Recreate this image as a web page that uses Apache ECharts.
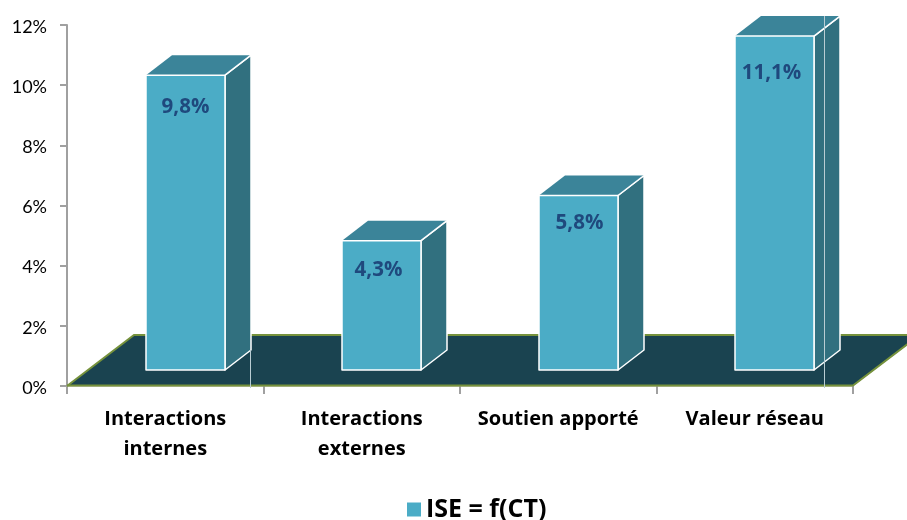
<!DOCTYPE html>
<html>
<head>
<meta charset="utf-8">
<style>html,body{margin:0;padding:0;background:#fff}#c{width:907px;height:520px}</style>
<script src="https://cdn.jsdelivr.net/npm/echarts@6/dist/echarts.min.js"></script>
</head>
<body>
<div id="c"></div>
<script>
var categories = ['Interactions\ninternes', 'Interactions\nexternes', 'Soutien apporté', 'Valeur réseau'];
var values = [9.8, 4.3, 5.8, 11.1];
var seriesName = 'ISE = f(CT)';
var font = 'Lato, Carlito, sans-serif';
var boldFont = '"Open Sans", Lato, sans-serif';

var FRONT = '#4bacc6', SIDE = '#31707f', TOP = '#3b8499', FLOOR = '#1a4350', EDGE = '#76923c', AX = '#a0a0a0';
var FLOOR_D = [67, -51], BAR_D = [26, -20], BAR_OFF = [20, -16], BAR_W = 79;
var LABEL_DY = [32, 30, 28, 37], LABEL_DX = [0, -3, 1, -3];
var SEAM_DX = [25, null, null, 10], SEAM_FULL = [false, null, null, true];

function floorItem(params, api) {
  var cs = params.coordSys;
  var l = cs.x, r = cs.x + cs.width, b = cs.y + cs.height;
  var dx = FLOOR_D[0], dy = FLOOR_D[1];
  return {
    type: 'group',
    children: [
      { type: 'polygon', shape: { points: [[l, b], [r, b], [r + dx, b + dy], [l + dx, b + dy]] },
        style: { fill: FLOOR, stroke: 'none' } },
      { type: 'polyline', shape: { points: [[l, b], [l + dx, b + dy], [r + dx, b + dy]] },
        style: { fill: 'none', stroke: EDGE, lineWidth: 2 } },
      { type: 'polyline', shape: { points: [[l, b - 0.5], [r, b - 0.5], [r + dx, b + dy - 0.5]] },
        style: { fill: 'none', stroke: EDGE, lineWidth: 2 } }
    ]
  };
}

function barItem(params, api) {
  var i = api.value(0), v = api.value(1);
  var t = api.coord([i, v]), z = api.coord([i, 0]);
  var xl = Math.round(t[0] + BAR_OFF[0] - BAR_W / 2), xr = xl + BAR_W;
  var yt = t[1] + BAR_OFF[1], yb = z[1] + BAR_OFF[1];
  var dx = BAR_D[0], dy = BAR_D[1];
  var wht = { stroke: '#fff', lineWidth: 1.5, lineJoin: 'round' };
  var kids = [
    { type: 'polygon', shape: { points: [[xr, yt], [xr + dx, yt + dy], [xr + dx, yb + dy], [xr, yb]] },
      style: Object.assign({ fill: SIDE }, wht) },
    { type: 'polygon', shape: { points: [[xl, yt], [xl + dx, yt + dy], [xr + dx, yt + dy], [xr, yt]] },
      style: { fill: TOP, stroke: 'none' } },
    { type: 'line', shape: { x1: xr, y1: yt, x2: xr + dx, y2: yt + dy }, style: wht },
    { type: 'rect', shape: { x: xl, y: yt, width: BAR_W, height: yb - yt },
      style: Object.assign({ fill: FRONT }, wht) }
  ];
  if (SEAM_DX[i] !== null) {
    var sx = xr + SEAM_DX[i] + 0.5;
    kids.push({ type: 'line', shape: { x1: sx, y1: SEAM_FULL[i] ? yt + dy : yb + dy, x2: sx, y2: z[1] + 2 },
      style: { stroke: '#b9cdd3', lineWidth: 1 } });
  }
  kids.push({ type: 'text', style: {
    x: (xl + xr) / 2 + LABEL_DX[i], y: yt + LABEL_DY[i],
    text: String(v).replace('.', ',') + '%',
    fill: '#1f497d', font: 'bold 20.5px ' + boldFont, textAlign: 'center', textVerticalAlign: 'middle' } });
  return { type: 'group', children: kids };
}

var chart = echarts.init(document.getElementById('c'), null, { renderer: 'canvas' });
chart.setOption({
  animation: false,
  backgroundColor: '#fff',
  grid: { left: 67, right: 54, top: 25, bottom: 134, containLabel: false },
  legend: {
    data: [{ name: seriesName, icon: 'rect' }],
    left: 407, top: 497, itemWidth: 14, itemHeight: 14, itemGap: 13, padding: 0,
    selectedMode: false,
    textStyle: { fontFamily: boldFont, fontWeight: 'bold', fontSize: 25, color: '#000' }
  },
  xAxis: {
    type: 'category', data: categories,
    axisLine: { lineStyle: { color: '#c8c8b8', width: 2 } },
    axisTick: { show: true, alignWithLabel: false, length: 8, lineStyle: { color: AX, width: 2 } },
    axisLabel: { interval: 0, margin: 18, color: '#000', fontFamily: boldFont, fontWeight: 'bold', fontSize: 20, lineHeight: 30 }
  },
  yAxis: {
    type: 'value', min: 0, max: 12, interval: 2,
    splitLine: { show: false },
    axisLine: { show: true, lineStyle: { color: AX, width: 2 } },
    axisTick: { show: true, length: 7, lineStyle: { color: AX, width: 2 } },
    axisLabel: { margin: 20, color: '#000', fontFamily: font, fontSize: 18,
      formatter: function (v) { return '{a|' + v + '%}'; },
      rich: { a: { padding: [4, 0, 0, 0], fontFamily: font, fontSize: 18, color: '#000' } } }
  },
  series: [
    { type: 'custom', name: 'floor', renderItem: floorItem, data: [[0, 0]], silent: true, clip: false,
      encode: { x: 0, y: 1 }, z: 2 },
    { type: 'custom', name: seriesName, renderItem: barItem, clip: false, z: 3,
      itemStyle: { color: FRONT },
      encode: { x: 0, y: 1 },
      data: values.map(function (v, i) { return [i, v]; }) }
  ]
});
</script>
</body>
</html>
